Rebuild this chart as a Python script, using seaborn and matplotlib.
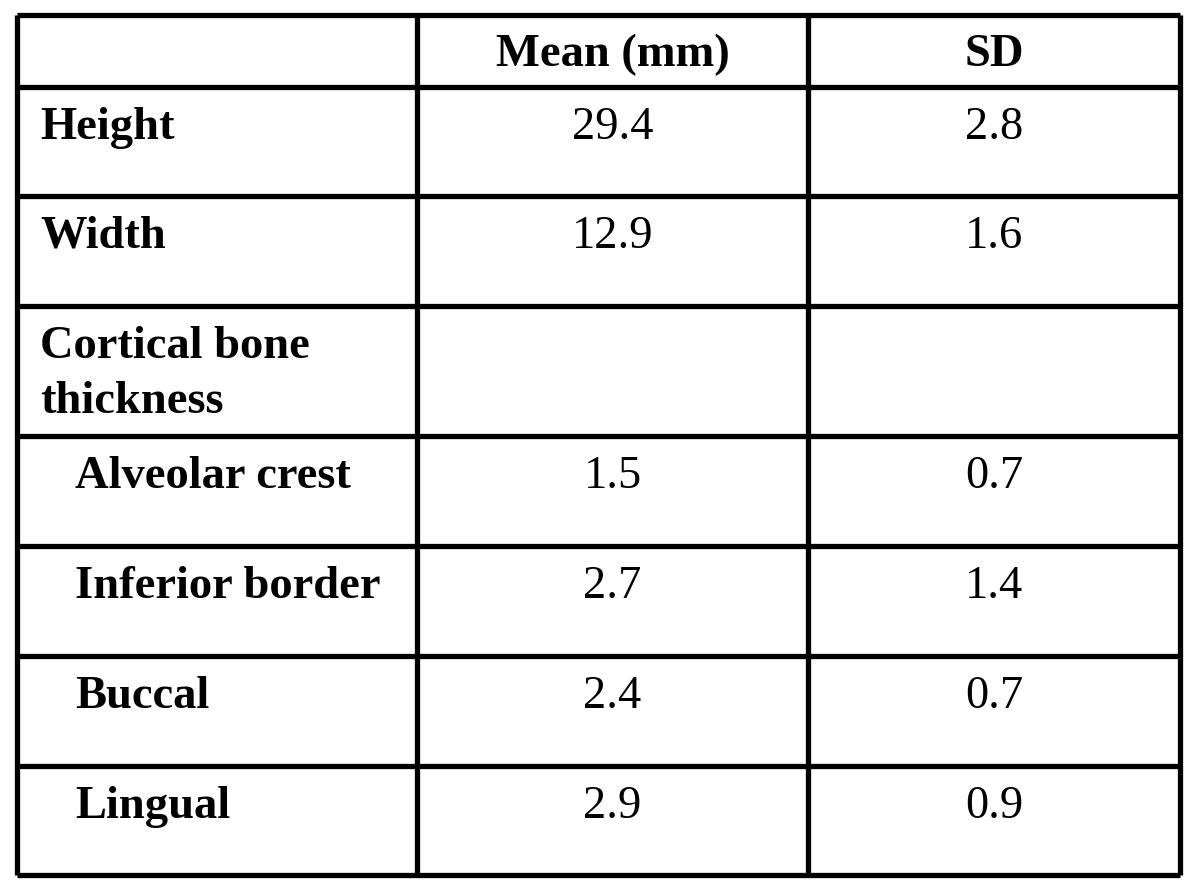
import matplotlib
matplotlib.use("Agg")
import matplotlib.pyplot as plt
import seaborn as sns

# table content
header = ["", "Mean (mm)", "SD"]
labels = ["Height", "Width", "Cortical bone\nthickness",
          "Alveolar crest", "Inferior border", "Buccal", "Lingual"]
indented = [False, False, False, True, True, True, True]
means = ["29.4", "12.9", "", "1.5", "2.7", "2.4", "2.9"]
sds = ["2.8", "1.6", "", "0.7", "1.4", "0.7", "0.9"]

# layout (pixel coordinates of the figure)
col_edges = [17, 417, 808, 1180]
row_edges = [15, 87, 196, 306, 436, 546, 656, 766, 875]

sns.set_theme(style="white")
plt.rcParams["font.family"] = ["Liberation Serif", "DejaVu Serif"]
plt.rcParams["text.color"] = "black"

fig = plt.figure(figsize=(12, 8.96), dpi=100)
ax = fig.add_axes([0, 0, 1, 1])
ax.set_xlim(0, 1200)
ax.set_ylim(896, 0)
ax.axis("off")

lw = 3.8
ax.hlines(row_edges, col_edges[0], col_edges[-1], color="black", lw=lw)
ax.vlines(col_edges, row_edges[0], row_edges[-1], color="black", lw=lw)

fs = 33.5
col_mid = [(col_edges[i] + col_edges[i + 1]) / 2 for i in range(3)]

# header row
for i in (1, 2):
    ax.text(col_mid[i], row_edges[0] + 51, header[i], ha="center",
            va="baseline", fontsize=fs, fontweight="bold")

for r, (lab, ind, m, s) in enumerate(zip(labels, indented, means, sds)):
    base = row_edges[r + 1] + 52
    x = 75 if ind else 40
    for k, line in enumerate(lab.split("\n")):
        ax.text(x, base + 55 * k, line, ha="left", va="baseline",
                fontsize=fs, fontweight="bold")
    ax.text(col_mid[1], base, m, ha="center", va="baseline", fontsize=fs)
    ax.text(col_mid[2], base, s, ha="center", va="baseline", fontsize=fs)

fig.savefig("out.png", dpi=100, facecolor="white")
